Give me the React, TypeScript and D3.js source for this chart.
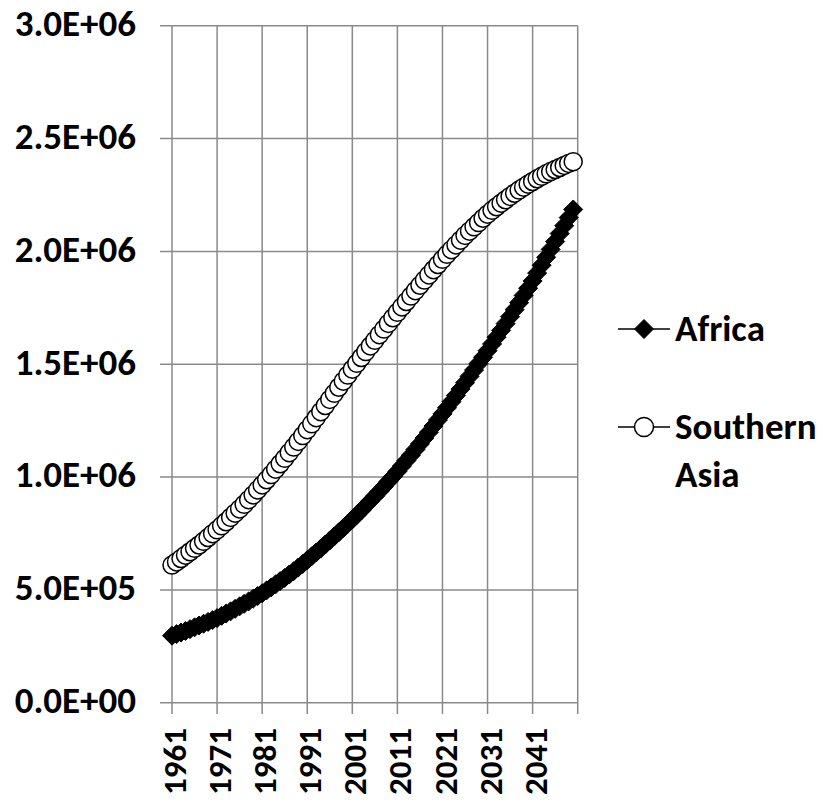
import React from "react";
import * as d3 from "d3";

const years: number[] = d3.range(1961, 2051);

const africa: number[] = [
  297000, 304000, 311000, 318000, 326000, 334000, 342000, 350000, 358000, 366000,
  375000, 385000, 395000, 405000, 416000, 427000, 438000, 449000, 461000, 473000,
  485000, 498000, 511000, 525000, 539000, 553000, 568000, 583000, 599000, 615000,
  632000, 649000, 666000, 683000, 701000, 719000, 737000, 755000, 774000, 793000,
  812000, 832000, 852000, 873000, 894000, 915000, 936000, 958000, 980000, 1002000,
  1025000, 1049000, 1073000, 1097000, 1122000, 1147000, 1173000, 1199000, 1226000, 1253000,
  1280000, 1307000, 1334000, 1362000, 1390000, 1418000, 1446000, 1474000, 1503000, 1531000,
  1560000, 1590000, 1620000, 1650000, 1680000, 1711000, 1742000, 1773000, 1805000, 1837000,
  1869000, 1904000, 1939000, 1974000, 2009000, 2044000, 2079000, 2114000, 2150000, 2186000,
];

const southernAsia: number[] = [
  610000, 624000, 639000, 654000, 669000, 684000, 699000, 715000, 732000, 749000,
  766000, 784000, 802000, 821000, 840000, 859000, 879000, 900000, 921000, 943000,
  965000, 988000, 1011000, 1035000, 1059000, 1083000, 1108000, 1133000, 1158000, 1184000,
  1210000, 1236000, 1263000, 1290000, 1317000, 1344000, 1371000, 1398000, 1425000, 1452000,
  1478000, 1504000, 1530000, 1556000, 1581000, 1606000, 1631000, 1656000, 1681000, 1706000,
  1730000, 1754000, 1778000, 1802000, 1826000, 1850000, 1873000, 1896000, 1919000, 1942000,
  1965000, 1987000, 2008000, 2029000, 2050000, 2071000, 2090000, 2109000, 2128000, 2147000,
  2165000, 2182000, 2198000, 2214000, 2229000, 2244000, 2258000, 2272000, 2285000, 2298000,
  2310000, 2322000, 2333000, 2344000, 2354000, 2363000, 2372000, 2381000, 2390000, 2398000,
];

const yTicks: number[] = [0, 500000, 1000000, 1500000, 2000000, 2500000, 3000000];
const yTickLabels: string[] = ["0.0E+00", "5.0E+05", "1.0E+06", "1.5E+06", "2.0E+06", "2.5E+06", "3.0E+06"];
const xGridYears: number[] = [1961, 1971, 1981, 1991, 2001, 2011, 2021, 2031, 2041, 2051];
const xTickLabels: string[] = ["1961", "1971", "1981", "1991", "2001", "2011", "2021", "2031", "2041"];
const seriesNames: string[] = ["Africa", "Southern", "Asia"];

const FONT = "Carlito, Lato, 'Open Sans', sans-serif";
const GRID = "#8a8a8a";

export default function App() {
  const W = 823;
  const H = 802;
  const left = 172;
  const right = 577.7;
  const top = 25.8;
  const bottom = 702.7;

  const x = d3.scaleLinear().domain([1961, 2051]).range([left, right]);
  const y = d3.scaleLinear().domain([0, 3000000]).range([bottom, top]);

  const lineGen = d3
    .line<number>()
    .x((_, i) => x(years[i]))
    .y((d) => y(d));

  const diamond = (cx: number, cy: number, r: number) =>
    `M${cx},${cy - r}L${cx + r},${cy}L${cx},${cy + r}L${cx - r},${cy}Z`;

  const legX1 = 618;
  const legX2 = 670;
  const legMid = 644;
  const legTextX = 675;
  const africaY = 329;
  const southY = 427;

  return (
    <svg
      width={W}
      height={H}
      style={{ position: "absolute", left: 0, top: 0, background: "#fff" }}
      fontFamily={FONT}
    >
      {yTicks.map((t) => (
        <line key={"h" + t} x1={160} x2={right} y1={y(t)} y2={y(t)} stroke={GRID} strokeWidth={1.5} />
      ))}
      {xGridYears.map((yr) => (
        <line key={"v" + yr} x1={x(yr)} x2={x(yr)} y1={top} y2={714} stroke={GRID} strokeWidth={1.5} />
      ))}

      {yTicks.map((t, i) => (
        <text
          key={"yl" + t}
          x={136}
          y={y(t) + 10.3}
          textAnchor="end"
          fontSize={37}
          fontWeight={700}
          fill="#000"
        >
          {yTickLabels[i]}
        </text>
      ))}

      {xTickLabels.map((lab) => {
        const xv = x(+lab);
        return (
          <text
            key={"xl" + lab}
            transform={`translate(${xv},728) rotate(-90)`}
            y={14.1}
            textAnchor="end"
            fontSize={33}
            fontWeight={700}
            fill="#000"
          >
            {lab}
          </text>
        );
      })}

      <path d={lineGen(africa) || ""} fill="none" stroke="#000" strokeWidth={1.5} />
      {africa.map((v, i) => (
        <path key={"a" + i} d={diamond(x(years[i]), y(v), 9.5)} fill="#000" stroke="#000" strokeWidth={1} />
      ))}

      <path d={lineGen(southernAsia) || ""} fill="none" stroke="#000" strokeWidth={1.5} />
      {southernAsia.map((v, i) => (
        <circle key={"s" + i} cx={x(years[i])} cy={y(v)} r={9} fill="#fff" stroke="#000" strokeWidth={1.5} />
      ))}

      <line x1={legX1} x2={legX2} y1={africaY} y2={africaY} stroke="#000" strokeWidth={1.5} />
      <path d={diamond(legMid, africaY, 9.5)} fill="#000" stroke="#000" strokeWidth={1} />
      <text x={legTextX} y={africaY + 12} fontSize={37} fontWeight={700} fill="#000">
        {seriesNames[0]}
      </text>

      <line x1={legX1} x2={legX2} y1={southY} y2={southY} stroke="#000" strokeWidth={1.5} />
      <circle cx={legMid} cy={southY} r={9.5} fill="#fff" stroke="#000" strokeWidth={1.5} />
      <text x={legTextX} y={southY + 12} fontSize={37} fontWeight={700} fill="#000">
        {seriesNames[1]}
      </text>
      <text x={legTextX} y={southY + 60} fontSize={37} fontWeight={700} fill="#000">
        {seriesNames[2]}
      </text>
    </svg>
  );
}
